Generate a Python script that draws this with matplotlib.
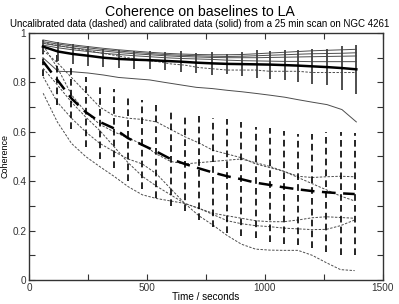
import matplotlib
matplotlib.use('Agg')
import matplotlib.pyplot as plt
from matplotlib.ticker import MultipleLocator

plt.rcParams['font.family'] = ['Liberation Sans', 'DejaVu Sans']

# uncalibrated (dashed) data, one point per minute
t_unc = [60, 120, 180, 240, 300, 360, 420, 480, 540, 600, 660, 720,
         780, 840, 900, 960, 1020, 1080, 1140, 1200, 1260, 1320, 1380]
unc_mean = [0.884, 0.81, 0.735, 0.68, 0.64, 0.614, 0.574, 0.547, 0.52, 0.49, 0.47, 0.452,
            0.435, 0.42, 0.408, 0.394, 0.385, 0.375, 0.367, 0.36, 0.355, 0.351, 0.348]
unc_err = [0.06, 0.1, 0.125, 0.14, 0.15, 0.16, 0.175, 0.18, 0.19, 0.19, 0.19, 0.21,
           0.22, 0.23, 0.23, 0.225, 0.23, 0.23, 0.226, 0.23, 0.243, 0.25, 0.247]
unc_lines = [
    [0.96, 0.95, 0.94, 0.93, 0.92, 0.91, 0.90, 0.89, 0.885, 0.875, 0.87, 0.86,
     0.855, 0.85, 0.85, 0.85, 0.845, 0.845, 0.845, 0.84, 0.84, 0.84, 0.84],
    [0.95, 0.86, 0.75, 0.68, 0.63, 0.60, 0.575, 0.55, 0.51, 0.48, 0.47, 0.475,
     0.48, 0.485, 0.49, 0.475, 0.46, 0.44, 0.42, 0.415, 0.418, 0.42, 0.418],
    [0.93, 0.88, 0.82, 0.76, 0.70, 0.665, 0.655, 0.65, 0.64, 0.61, 0.58, 0.555,
     0.525, 0.51, 0.495, 0.47, 0.455, 0.44, 0.415, 0.39, 0.365, 0.34, 0.32],
    [0.857, 0.79, 0.72, 0.66, 0.605, 0.54, 0.475, 0.42, 0.38, 0.345, 0.31, 0.29,
     0.27, 0.26, 0.25, 0.24, 0.236, 0.236, 0.243, 0.252, 0.256, 0.253, 0.25],
    [0.756, 0.64, 0.553, 0.50, 0.459, 0.42, 0.378, 0.345, 0.33, 0.32, 0.31, 0.29,
     0.265, 0.24, 0.228, 0.22, 0.216, 0.21, 0.207, 0.204, 0.205, 0.22, 0.243],
    [0.823, 0.72, 0.655, 0.60, 0.553, 0.52, 0.49, 0.47, 0.43, 0.37, 0.31, 0.26,
     0.222, 0.18, 0.145, 0.125, 0.121, 0.12, 0.12, 0.10, 0.07, 0.042, 0.038],
]

# calibrated (solid) data
t_cal = [59, 123, 186, 250, 315, 380, 445, 511, 575, 642, 709, 777,
         840, 903, 965, 1023, 1084, 1140, 1200, 1263, 1326, 1387]
cal_mean = [0.945, 0.925, 0.915, 0.908, 0.90, 0.895, 0.892, 0.89, 0.887, 0.884, 0.88, 0.877,
            0.875, 0.874, 0.873, 0.872, 0.87, 0.868, 0.865, 0.862, 0.858, 0.853]
cal_err = [0.027, 0.04, 0.04, 0.04, 0.037, 0.037, 0.037, 0.037, 0.037, 0.042, 0.04, 0.047,
           0.042, 0.05, 0.057, 0.057, 0.062, 0.065, 0.07, 0.073, 0.088, 0.10]
cal_lines = [
    [0.972, 0.96, 0.952, 0.945, 0.938, 0.932, 0.927, 0.922, 0.918, 0.915, 0.913, 0.912,
     0.912, 0.913, 0.916, 0.919, 0.922, 0.925, 0.928, 0.93, 0.932, 0.934],
    [0.965, 0.955, 0.947, 0.94, 0.933, 0.927, 0.922, 0.917, 0.913, 0.91, 0.908, 0.906,
     0.905, 0.906, 0.908, 0.91, 0.912, 0.914, 0.916, 0.917, 0.918, 0.92],
    [0.958, 0.948, 0.94, 0.933, 0.927, 0.921, 0.916, 0.912, 0.908, 0.905, 0.903, 0.901,
     0.9, 0.9, 0.9, 0.901, 0.902, 0.903, 0.904, 0.905, 0.906, 0.907],
    [0.951, 0.94, 0.932, 0.925, 0.918, 0.913, 0.908, 0.904, 0.9, 0.897, 0.895, 0.893,
     0.89, 0.888, 0.887, 0.886, 0.885, 0.885, 0.884, 0.884, 0.884, 0.884],
    [0.90, 0.845, 0.843, 0.838, 0.83, 0.82, 0.815, 0.81, 0.80, 0.79, 0.78, 0.775,
     0.768, 0.762, 0.755, 0.748, 0.74, 0.73, 0.72, 0.71, 0.69, 0.64],
]

fig = plt.figure(figsize=(3.99, 3.04), dpi=100)
ax = fig.add_axes([29/399, 1-280/304, 354/399, 247/304])

for v in unc_lines:
    ax.plot(t_unc, v, color='0.3', lw=0.7, dashes=(2.5, 1.5))
for v in cal_lines:
    ax.plot(t_cal, v, color='0.3', lw=0.7)

eb = ax.errorbar(t_unc, unc_mean, yerr=unc_err, fmt='none', ecolor='black', elinewidth=1.2)
eb[2][0].set_linestyle((0, (4, 2.5)))
ax.plot(t_unc, unc_mean, color='black', lw=1.8, dashes=(5.5, 3))

ax.errorbar(t_cal, cal_mean, yerr=cal_err, fmt='none', ecolor='0.25', elinewidth=1.3)
ax.plot(t_cal, cal_mean, color='black', lw=1.8)

ax.set_xlim(0, 1500)
ax.set_ylim(0, 1)
ax.xaxis.set_major_locator(MultipleLocator(500))
ax.xaxis.set_minor_locator(MultipleLocator(250))
ax.yaxis.set_major_locator(MultipleLocator(0.2))
ax.yaxis.set_minor_locator(MultipleLocator(0.1))
ax.yaxis.set_major_formatter(plt.FuncFormatter(lambda v, p: '%g' % v))
ax.tick_params(which='both', direction='in', top=True, right=True, labelsize=7.2,
               length=4, width=0.8, colors='0.2', pad=2)
for s in ax.spines.values():
    s.set_linewidth(1.0)
    s.set_color('0.2')

ax.set_xlabel('Time / seconds', fontsize=7.2, va='center')
ax.xaxis.set_label_coords(0.5, -0.068)
ax.set_ylabel('Coherence', fontsize=6.5, va='center')
ax.yaxis.set_label_coords(-0.068, 0.5)
fig.text(0.5, 1-12/304, 'Coherence on baselines to LA', ha='center', va='center', fontsize=10.2)
fig.text(0.5, 1-24/304, 'Uncalibrated data (dashed) and calibrated data (solid) from a 25 min scan on NGC 4261',
         ha='center', va='center', fontsize=7.0)

fig.savefig('out.png', dpi=100)
